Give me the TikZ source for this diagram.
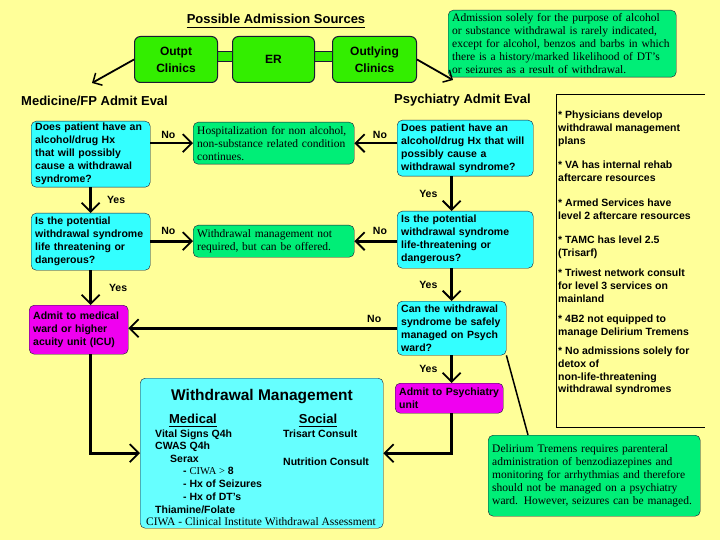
\documentclass[tikz,border=0pt]{standalone}
\usepackage{fontspec}
\setmainfont{Liberation Serif}
\setsansfont{Liberation Sans}
\usetikzlibrary{arrows.meta}
\definecolor{bgyellow}{HTML}{FFFF99}
\definecolor{qcyan}{HTML}{33FFFF}
\definecolor{wmcyan}{HTML}{66FFFF}
\definecolor{srcgreen}{HTML}{33EE00}
\definecolor{notegreen}{HTML}{00EE77}
\definecolor{admpink}{HTML}{F000F0}
\definecolor{boxline}{HTML}{1A1A33}

\begin{document}
\begin{tikzpicture}[x=1pt, y=-1pt,
  qbox/.style={draw=boxline, fill=qcyan, rounded corners=5pt, anchor=north west, align=left,
    inner xsep=4pt, inner ysep=1pt, font=\sffamily\bfseries\fontsize{10.5}{13}\selectfont},
  admbox/.style={qbox, fill=admpink},
  notebox/.style={qbox, fill=notegreen, font=\rmfamily\fontsize{11.5}{13}\selectfont},
  srcbox/.style={draw=boxline, line width=1pt, fill=srcgreen, rounded corners=6pt, anchor=north west,
    align=center, font=\sffamily\bfseries\fontsize{12}{17}\selectfont},
  hdr/.style={font=\sffamily\bfseries\fontsize{13}{15}\selectfont, inner sep=0pt},
  lbl/.style={font=\sffamily\bfseries\fontsize{10.5}{12}\selectfont, inner sep=1pt},
  body/.style={font=\sffamily\bfseries\fontsize{10.5}{13}\selectfont, anchor=base west, inner sep=0pt},
  item/.style={font=\sffamily\bfseries\fontsize{10.5}{12.6}\selectfont, anchor=north west, align=left, inner sep=0pt},
  flow/.style={line width=2.6pt, -{Straight Barb[length=9pt, width=18pt, line width=1.8pt]}},
  feed/.style={line width=1.8pt, -{Straight Barb[length=7pt, width=14pt, line width=1.5pt]}}]
\fill[bgyellow] (0,0) rectangle (720,540);
\useasboundingbox (0,0) rectangle (720,540);
% admission sources
\node[hdr] (srctitle) at (276,19) {Possible Admission Sources};
\draw[line width=1.5pt] ([yshift=-4pt]srctitle.base west) -- ([yshift=-4pt]srctitle.base east);
\draw[draw=boxline, fill=srcgreen, line width=1pt] (210,52) rectangle (240,62);
\draw[draw=boxline, fill=srcgreen, line width=1pt] (308,52) rectangle (338,62);
\node[srcbox, minimum width=83pt, minimum height=46pt] (outpt) at (134,36) {Outpt\\Clinics};
\node[srcbox, minimum width=82pt, minimum height=46pt] (er) at (232,36) {ER};
\node[srcbox, minimum width=84pt, minimum height=46pt] (outly) at (332,36) {Outlying\\Clinics};
\node[notebox, text width=220pt, minimum height=67pt] (admnote) at (448,10)
  {Admission solely for the purpose of alcohol\\ or substance withdrawal is rarely indicated,\\
   except for alcohol, benzos and barbs in which\\ there is a history/marked likelihood of DT's\\
   or seizures as a result of withdrawal.};
\node[hdr, anchor=west] (medhead) at (21,101) {Medicine/FP Admit Eval};
\node[hdr, anchor=west] (psyhead) at (394,100) {Psychiatry Admit Eval};
\coordinate (medin) at (92,83);
\coordinate (psyin) at (453,80);
\draw[feed] (outpt.west) -- (medin);
\draw[feed] (outly.east) -- (psyin);
% medicine side
\node[qbox, text width=111pt, minimum height=66pt] (medq1) at (31,121)
  {Does patient have an\\ alcohol/drug Hx\\ that will possibly\\ cause a withdrawal\\ syndrome?};
\node[qbox, text width=111pt, minimum height=57pt] (medq2) at (31,213)
  {Is the potential\\ withdrawal syndrome\\ life threatening or\\ dangerous?};
\node[admbox, text width=91pt, minimum height=49pt] (medadm) at (29,305)
  {Admit to medical\\ ward or higher\\ acuity unit (ICU)};
% outcomes in the middle
\node[notebox, text width=153pt, minimum height=42pt] (hosp) at (193,122)
  {Hospitalization for non alcohol,\\ non-substance related condition\\ continues.};
\node[notebox, text width=153pt, minimum height=32pt] (wmnot) at (193,225)
  {Withdrawal management not\\ required, but can be offered.};
% psychiatry side
\node[qbox, text width=128pt, minimum height=56pt] (psyq1) at (397,120)
  {Does patient have an\\ alcohol/drug Hx that will\\ possibly cause a\\ withdrawal syndrome?};
\node[qbox, text width=128pt, minimum height=57pt] (psyq2) at (397,211)
  {Is the potential\\ withdrawal syndrome\\ life-threatening or\\ dangerous?};
\node[qbox, text width=101pt, minimum height=54pt] (psyq3) at (397,301)
  {Can the withdrawal\\ syndrome be safely\\ managed on Psych\\ ward?};
\node[admbox, text width=100pt, minimum height=30pt] (psyadm) at (395,383)
  {Admit to Psychiatry\\ unit};
% withdrawal management
\node[draw=boxline, fill=wmcyan, rounded corners=5pt, anchor=north west,
  minimum width=243pt, minimum height=150pt] (wm) at (140,378) {};
\node[hdr, font=\sffamily\bfseries\fontsize{15.5}{18}\selectfont] (wmtitle) at (262,397) {Withdrawal Management};
\node[hdr] (wmmed) at (193,419) {Medical};
\node[hdr] (wmsoc) at (318,419) {Social};
\draw[line width=1pt] ([yshift=-2.5pt]wmmed.base west) -- ([yshift=-2.5pt]wmmed.base east);
\draw[line width=1pt] ([yshift=-2.5pt]wmsoc.base west) -- ([yshift=-2.5pt]wmsoc.base east);
\node[body] (vital) at (155,437.5) {Vital Signs Q4h};
\node[body] (cwas) at (155,449.5) {CWAS Q4h};
\node[body] (serax) at (170,462.5) {Serax};
\node[body] (ciwa8) at (183,474.5) {- {\rmfamily\mdseries CIWA >} 8};
\node[body] (hxsz) at (183,487.5) {- Hx of Seizures};
\node[body] (hxdt) at (183,500.5) {- Hx of DT's};
\node[body] (thia) at (155,513.5) {Thiamine/Folate};
\node[body, anchor=base, font=\rmfamily\fontsize{11.5}{13}\selectfont] (ciwa) at (261,525)
  {CIWA - Clinical Institute Withdrawal Assessment};
\node[body] (trisart) at (283,437.5) {Trisart Consult};
\node[body] (nutri) at (283,465.5) {Nutrition Consult};
% notes on the right
\draw[line width=0.8pt] (705,94) -- (556,94) -- (556,427) -- (705,427);
\node[item] (note1) at (558,111) {* Physicians develop\\ withdrawal management\\ plans};
\node[item] (note2) at (558,161) {* VA has internal rehab\\ aftercare resources};
\node[item] (note3) at (558,199) {* Armed Services have\\ level 2 aftercare resources};
\node[item] (note4) at (558,236) {* TAMC has level 2.5\\ (Trisarf)};
\node[item] (note5) at (558,269) {* Triwest network consult\\ for level 3 services on\\ mainland};
\node[item] (note6) at (558,315) {* 4B2 not equipped to\\ manage Delirium Tremens};
\node[item] (note7) at (558,347) {* No admissions solely for\\ detox of\\ non-life-threatening\\ withdrawal syndromes};
\node[notebox, text width=204pt, minimum height=81pt] (delir) at (488,435)
  {Delirium Tremens requires parenteral\\ administration of benzodiazepines and\\
   monitoring for arrhythmias and therefore\\ should not be managed on a psychiatry\\
   ward. However, seizures can be managed.};
% connectors
\draw[flow] (medq1.east |- hosp.west) -- (hosp.west) node[lbl, above=2pt, pos=0.42] {No};
\draw[flow] (psyq1.west |- hosp.east) -- (hosp.east) node[lbl, above=2pt, pos=0.4] {No};
\draw[flow] (medq2.east |- wmnot.west) -- (wmnot.west) node[lbl, above=4pt, pos=0.42] {No};
\draw[flow] (psyq2.west |- wmnot.east) -- (wmnot.east) node[lbl, above=4pt, pos=0.4] {No};
\draw[flow] (medq1.south) -- (medq2.north) node[lbl, right=14pt, midway] {Yes};
\draw[flow] (medq2.south) -- (medq2.south |- medadm.north) node[lbl, right=16pt, midway] {Yes};
\draw[flow] (psyq3.north |- psyq1.south) -- (psyq3.north |- psyq2.north) node[lbl, left=12pt, midway] {Yes};
\draw[flow] (psyq3.north |- psyq2.south) -- (psyq3.north) node[lbl, left=12pt, midway] {Yes};
\draw[flow] (psyq3.west) -- (psyq3.west -| medadm.east) node[lbl, above=3pt, pos=0.085] {No};
\draw[flow] (psyq3.south) -- (psyq3.south |- psyadm.north) node[lbl, left=12pt, midway] {Yes};
\draw[flow] (medq1.south |- medadm.south) |- (wm.west);
\draw[flow] (psyq3.south |- psyadm.south) |- (wm.east);
\draw[line width=1.5pt] (psyq3.south east) -- ([xshift=40pt]delir.north west);
\end{tikzpicture}
\end{document}
